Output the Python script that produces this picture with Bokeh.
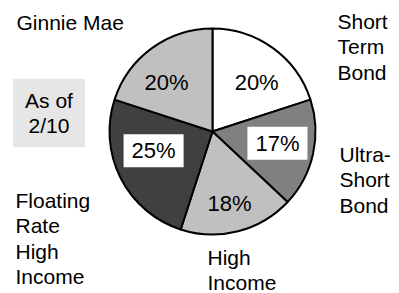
import numpy as np
from bokeh.plotting import figure
from bokeh.models import Range1d, ColumnDataSource
from bokeh.embed import file_html
from bokeh.resources import INLINE
from bokeh.core.properties import value

# ---- data ----
categories = ["Short Term Bond", "Ultra-Short Bond", "High Income",
              "Floating Rate High Income", "Ginnie Mae"]
category_lines = ["Short\nTerm\nBond", "Ultra-\nShort\nBond", "High\nIncome",
                  "Floating\nRate\nHigh\nIncome", "Ginnie Mae"]
shares = [20, 17, 18, 25, 20]
note_text = "As of\n2/10"

# ---- styles / layout ----
colors = ["#ffffff", "#808080", "#c0c0c0", "#404040", "#c0c0c0"]
boxed = [False, True, False, True, False]
label_dang = [-6.0, 2.3, -1.1, -8.8, 7.4]     # degrees offset from mid angle
label_rad = [66, 66, 74, 62, 67]               # label distance from centre (px)
cat_anchor = [(337, 9), (339, 142), (207, 245), (15, 188), (16, 10)]  # left, top (page px)
FONT = "Liberation Sans"
LH = 1.11

W, H = 399, 293


def px(x):
    return x


def py(y):
    return H - y


cx, cy, R = px(212), py(131), 103

vals = np.array(shares, dtype=float)
frac = vals / vals.sum()
cum = np.concatenate([[0], np.cumsum(frac)])
start = np.pi / 2 - 2 * np.pi * cum[:-1]
end = np.pi / 2 - 2 * np.pi * cum[1:]
mid = (start + end) / 2 + np.radians(label_dang)
lx = cx + np.array(label_rad) * np.cos(mid)
ly = cy + np.array(label_rad) * np.sin(mid)
pct = [f"{round(v)}%" for v in frac * 100]

p = figure(width=W, height=H, output_backend="svg", toolbar_location=None,
           x_range=Range1d(0, W), y_range=Range1d(0, H), min_border=0)
p.axis.visible = False
p.grid.visible = False
p.outline_line_color = None
p.background_fill_color = "white"
p.border_fill_color = "white"

src = ColumnDataSource(dict(start=start, end=end, color=colors, cat=categories))
p.wedge(x=cx, y=cy, radius=R, start_angle="start", end_angle="end",
        direction="clock", fill_color="color", line_color="black",
        line_width=2, source=src)

plain = [i for i in range(len(shares)) if not boxed[i]]
box = [i for i in range(len(shares)) if boxed[i]]
p.text(x=[lx[i] for i in plain], y=[ly[i] for i in plain], text=[pct[i] for i in plain],
       text_font=value(FONT), text_font_size="22px", text_align="center",
       text_baseline="middle", text_color="black")
p.text(x=[lx[i] for i in box], y=[ly[i] for i in box], text=[pct[i] for i in box],
       text_font=value(FONT), text_font_size="22px", text_align="center",
       text_baseline="middle", text_color="black",
       background_fill_color="white",
       padding=dict(left=8, right=8, top=4, bottom=4))

p.text(x=[px(a[0]) for a in cat_anchor], y=[py(a[1]) for a in cat_anchor],
       text=category_lines, text_font=value(FONT), text_font_size="21px",
       text_align="left", text_baseline="top", text_color="black",
       text_line_height=LH)

p.text(x=[px(48.5)], y=[py(112.5)], text=[note_text], text_font=value(FONT),
       text_font_size="21px", text_align="center", text_baseline="middle",
       text_color="black", text_line_height=LH,
       background_fill_color="#e6e6e6",
       padding=dict(left=12, right=12, top=10, bottom=10))

open("out.html", "w").write(file_html(p, INLINE))
